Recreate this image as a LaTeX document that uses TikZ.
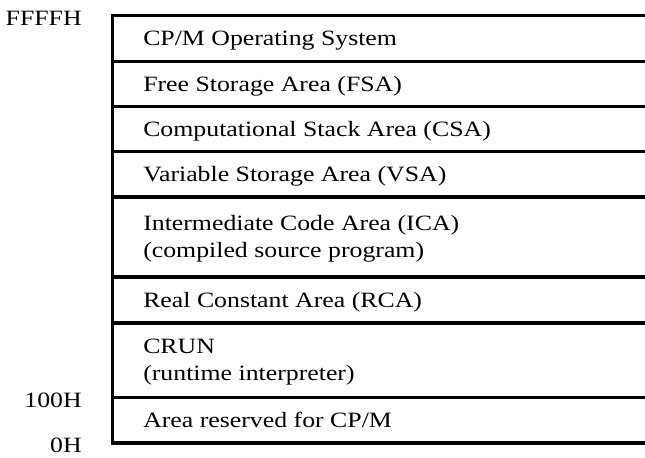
\documentclass[tikz,border=0pt]{standalone}
\usepackage{fontspec}
\setmainfont[FakeStretch=1.18]{Liberation Serif}
\begin{document}
\begin{tikzpicture}[x=0.75pt,y=-0.75pt,
  cell/.style={anchor=base west,inner sep=0pt,font=\fontsize{16.4pt}{19.9pt}\selectfont},
  addr/.style={anchor=base east,inner sep=0pt,font=\fontsize{16.4pt}{19.9pt}\selectfont},
  rule/.style={line width=2.4pt,line join=miter,line cap=rect}]
\useasboundingbox (0,0) rectangle (645,457);
% frame and separators
\draw[rule,line cap=butt] (650,15.3) -- (112.5,15.3) -- (112.5,443) -- (650,443);
\foreach \yy in {61.3,106.3,151.3,197,277,323,397.3}
  \draw[rule,line cap=butt] (112.5,\yy) -- (650,\yy);
% cell texts
\node[cell] (os)   at (143,45.8)  {CP/M Operating System};
\node[cell] (fsa)  at (143,91.0)  {Free Storage Area (FSA)};
\node[cell] (csa)  at (143,136.0) {Computational Stack Area (CSA)};
\node[cell] (vsa)  at (143,181.3) {Variable Storage Area (VSA)};
\node[cell] (ica)  at (143,230.5) {Intermediate Code Area (ICA)};
\node[cell] (ica2) at (143,257.0) {(compiled source program)};
\node[cell] (rca)  at (143,307.0) {Real Constant Area (RCA)};
\node[cell] (crun) at (143,353.5) {CRUN};
\node[cell] (crun2) at (143,380.0) {(runtime interpreter)};
\node[cell] (res)  at (143,427.0) {Area reserved for CP/M};
% addresses
\node[addr] (top) at (82,25)  {FFFFH};
\node[addr] (h100) at (82,407) {100H};
\node[addr] (h0)  at (82,452) {0H};
\end{tikzpicture}
\end{document}
